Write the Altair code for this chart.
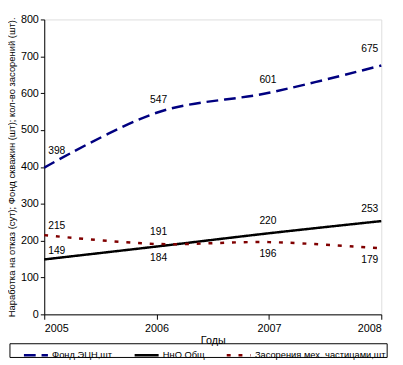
import altair as alt
import pandas as pd

years = [2005, 2006, 2007, 2008]
series_names = ["Фонд ЭЦН,шт", "НнО Общ", "Засорения мех. частицами,шт"]
fond = [398, 547, 601, 675]
nno = [149, 184, 220, 253]
zasor = [215, 191, 196, 179]

colors = ["#000080", "#000000", "#800000"]
dashes = [[12, 6], [1, 0], [4, 8]]

rows = []
for name, vals in zip(series_names, [fond, nno, zasor]):
    for y, v in zip(years, vals):
        rows.append({"year": y, "value": v, "series": name})
df = pd.DataFrame(rows)

# labels drawn below their point (others above)
below = [("НнО Общ", 2006), ("Засорения мех. частицами,шт", 2007), ("Засорения мех. частицами,шт", 2008)]
df["below"] = [(r.series, r.year) in below for r in df.itertuples()]

FONT = "Liberation Sans"

x = alt.X("year:Q", title="Годы",
          scale=alt.Scale(domain=[2005, 2008], nice=False, zero=False),
          axis=alt.Axis(values=years, format="d", grid=False, tickSize=5,
                        labelPadding=3, titlePadding=2, domainColor="black",
                        tickColor="black", labelFontSize=11, titleFontSize=11,
                        titleFontWeight="normal", labelFont=FONT, titleFont=FONT,
                        labelColor="black", titleColor="black", labelOverlap=False))
y = alt.Y("value:Q",
          title="Наработка на отказ (сут); Фонд скважин (шт); кол-во засорений (шт).",
          scale=alt.Scale(domain=[0, 800], nice=False),
          axis=alt.Axis(values=list(range(0, 801, 100)), grid=False, tickSize=4,
                        labelPadding=2, domainColor="black", tickColor="black",
                        labelFontSize=11, titleFontSize=9.6, titleFontWeight="normal",
                        labelFont=FONT, titleFont=FONT, labelColor="black",
                        titleColor="black", titleX=-33, titleBaseline="middle",
                        titleLimit=400, labelOverlap=False))

legend = alt.Legend(orient="none", legendX=-22, legendY=329,
                    direction="horizontal", symbolType="stroke",
                    symbolSize=600, symbolStrokeWidth=2.5,
                    labelFontSize=9.5, labelFont=FONT,
                    labelColor="black", columnPadding=17,
                    labelOffset=3, labelLimit=300)

base = alt.Chart(df)

lines = base.mark_line(interpolate="cardinal", strokeWidth=2.5).encode(
    x=x, y=y,
    color=alt.Color("series:N", scale=alt.Scale(domain=series_names, range=colors),
                    title=None, legend=legend),
    strokeDash=alt.StrokeDash("series:N",
                              scale=alt.Scale(domain=series_names, range=dashes),
                              title=None, legend=legend),
)

def labels(cond, align, dx, dy):
    return base.transform_filter(cond).mark_text(
        align=align, baseline="middle", dx=dx, dy=dy, fontSize=10.5, font=FONT,
        color="black").encode(x=x, y=y, text="value:Q")

layers = []
for yr, align, dx in [(2005, "left", 4), (2006, "center", 2), (2007, "center", -1), (2008, "right", -3)]:
    up = -17 if yr in (2005, 2008) else -13
    layers.append(labels((alt.datum.year == yr) & (~alt.datum.below) & (alt.datum.series == series_names[0]), align, dx, up))
    layers.append(labels((alt.datum.year == yr) & (~alt.datum.below) & (alt.datum.series != series_names[0]), align, dx, -9 if yr == 2005 else -12))
    layers.append(labels((alt.datum.year == yr) & (alt.datum.below), align, dx, 12))

frame = alt.Chart(pd.DataFrame({"a": [0]})).mark_rect(
    fill=None, stroke="black", strokeWidth=1).encode(
    x=alt.value(-35), x2=alt.value(350), y=alt.value(331), y2=alt.value(345))

chart = alt.layer(lines, *layers, frame).properties(
    width=344, height=301,
    autosize=alt.AutoSizeParams(type="none"),
    padding={"left": 37, "top": 8, "right": 14, "bottom": 48},
).configure_view(stroke="#808080", strokeWidth=1).configure(background="white")

chart.save("out.html", embed_options={"renderer": "svg", "actions": False})
